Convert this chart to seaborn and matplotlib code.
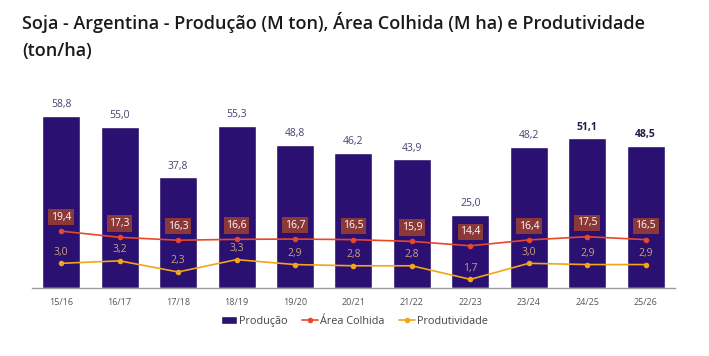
import numpy as np
import pandas as pd
import matplotlib.pyplot as plt
import seaborn as sns

# Data
safras = ["15/16", "16/17", "17/18", "18/19", "19/20", "20/21",
          "21/22", "22/23", "23/24", "24/25", "25/26"]
producao = [58.8, 55.0, 37.8, 55.3, 48.8, 46.2, 43.9, 25.0, 48.2, 51.1, 48.5]
area = [19.4, 17.3, 16.3, 16.6, 16.7, 16.5, 15.9, 14.4, 16.4, 17.5, 16.5]
produtividade = [3.0, 3.2, 2.3, 3.3, 2.9, 2.8, 2.8, 1.7, 3.0, 2.9, 2.9]
destaque = ["24/25", "25/26"]  # projections shown in bold

df = pd.DataFrame({"safra": safras, "producao": producao,
                   "area": area, "produtividade": produtividade})

BAR = "#2a1070"
RED = "#e8472c"
ORANGE = "#f2a516"

sns.set_style("white")
plt.rcParams["font.family"] = ["Open Sans", "DejaVu Sans"]

fig = plt.figure(figsize=(7.09, 3.56), dpi=100)
ax = fig.add_axes([0.045, 0.191, 0.907, 0.527])

sns.barplot(data=df, x="safra", y="producao", color=BAR, width=0.65,
            saturation=1, ax=ax, label="Produção")
sns.lineplot(data=df, x="safra", y="area", color=RED, marker="o",
             markersize=4, markeredgewidth=0, linewidth=1.2, ax=ax,
             label="Área Colhida")
ax.set_ylim(0, 64)
if ax.get_legend() is not None:
    ax.get_legend().remove()

ax2 = ax.twinx()
sns.lineplot(data=df, x="safra", y="produtividade", color=ORANGE, marker="o",
             markersize=4, markeredgewidth=0, linewidth=1.2, ax=ax2,
             label="Produtividade")
ax2.set_ylim(1.0, 16.2)
if ax2.get_legend() is not None:
    ax2.get_legend().remove()

# value labels
for i, row in df.iterrows():
    bold = row.safra in destaque
    ax.annotate(f"{row.producao:.1f}".replace(".", ","), (i, row.producao),
                xytext=(0, 4), textcoords="offset points", ha="center",
                va="bottom", fontsize=7.5,
                color="#1e1a4a" if bold else "#45426e",
                fontweight="bold" if bold else "normal")
    ax.annotate(f"{row.area:.1f}".replace(".", ","), (i, row.area),
                xytext=(0, 10), textcoords="offset points", ha="center",
                va="center", fontsize=7.5, color="white",
                bbox=dict(boxstyle="square,pad=0.25", fc="#8b3838",
                          ec="none"))
    ax2.annotate(f"{row.produtividade:.1f}".replace(".", ","),
                 (i, row.produtividade), xytext=(0, 8),
                 textcoords="offset points", ha="center", va="center",
                 fontsize=7.5, color="#c9a276")

for a in (ax, ax2):
    a.set_ylabel("")
    a.set_yticks([])
    for s in ["top", "right", "left", "bottom"]:
        a.spines[s].set_visible(False)
ax.spines["bottom"].set_visible(True)
ax.spines["bottom"].set_color("#9a9a9a")
ax.spines["bottom"].set_linewidth(1)

ax.set_xlabel("")
ax.set_xlim(-0.5, 10.5)
ax.tick_params(axis="x", length=0, labelsize=6.5, labelcolor="#555555", pad=7)

h1, l1 = ax.get_legend_handles_labels()
h2, l2 = ax2.get_legend_handles_labels()
handles = dict(zip(l1 + l2, h1 + h2))
order = ["Produção", "Área Colhida", "Produtividade"]
fig.legend([handles[k] for k in order], order, loc="center",
           bbox_to_anchor=(0.5, 0.098), ncol=3, frameon=False,
           fontsize=7.8, labelcolor="#444444", handlelength=1.5,
           handleheight=0.7, columnspacing=1.3, handletextpad=0.2)

fig.text(0.031, 0.965, "Soja - Argentina - Produção (M ton), Área Colhida (M ha) e Produtividade\n(ton/ha)",
         ha="left", va="top", fontsize=13.0, fontweight="semibold",
         color="#1a1a1a", linespacing=1.6)

fig.savefig("out.png", dpi=100)
